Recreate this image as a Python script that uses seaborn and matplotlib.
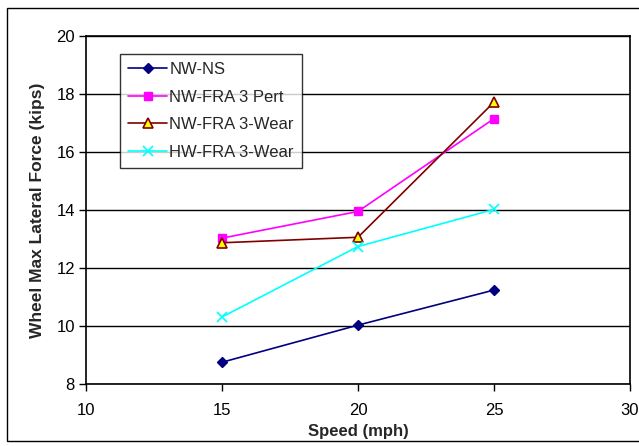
import matplotlib
matplotlib.use("Agg")
import matplotlib.pyplot as plt
import seaborn as sns
import pandas as pd
from matplotlib.patches import Rectangle

speeds = [15, 20, 25]
nw_ns = [8.75, 10.03, 11.24]
nw_fra_pert = [13.03, 13.95, 17.15]
nw_fra_wear = [12.87, 13.06, 17.72]
hw_fra_wear = [10.31, 12.74, 14.02]
series_names = ["NW-NS", "NW-FRA 3 Pert", "NW-FRA 3-Wear", "HW-FRA 3-Wear"]
x_ticks = [10, 15, 20, 25, 30]
y_ticks = [8, 10, 12, 14, 16, 18, 20]

df = pd.DataFrame({
    "Speed": speeds * 4,
    "Force": nw_ns + nw_fra_pert + nw_fra_wear + hw_fra_wear,
    "Series": sum([[n] * len(speeds) for n in series_names], []),
})

sns.set_style("white")
plt.rcParams["font.family"] = ["Liberation Sans", "DejaVu Sans"]

fig = plt.figure(figsize=(6.39, 4.46), dpi=100)
ax = fig.add_axes([86 / 639, 1 - 384 / 446, (630 - 86) / 639, (384 - 36) / 446])

styles = {
    "NW-NS": dict(color="#000080", marker="D", mfc="#000080", mec="#000080", ms=5),
    "NW-FRA 3 Pert": dict(color="#FF00FF", marker="s", mfc="#FF00FF", mec="#FF00FF", ms=6),
    "NW-FRA 3-Wear": dict(color="#800000", marker="^", mfc="#FFFF00", mec="#800000", ms=7, mew=1.2),
    "HW-FRA 3-Wear": dict(color="#00FFFF", marker="x", mfc="#00FFFF", mec="#00FFFF", ms=7, mew=1.2),
}

for name in series_names:
    sub = df[df["Series"] == name]
    st = styles[name]
    sns.lineplot(data=sub, x="Speed", y="Force", ax=ax, color=st["color"], lw=1.2,
                 marker=st["marker"], markersize=st["ms"], markerfacecolor=st["mfc"],
                 markeredgecolor=st["mec"], markeredgewidth=st.get("mew", 1.0), label=name)

ax.set_xlim(10, 30)
ax.set_ylim(8, 20)
ax.set_xticks(x_ticks)
ax.set_yticks(y_ticks)
ax.yaxis.grid(True, color="black", lw=1)
ax.xaxis.grid(False)
for s in ax.spines.values():
    s.set_color("black")
    s.set_linewidth(1.2)
ax.tick_params(axis="both", direction="out", length=5, width=1, colors="black",
               labelsize=12, bottom=True, left=True)
ax.tick_params(axis="x", pad=9)
ax.tick_params(axis="y", pad=3)
ax.set_xlabel("Speed (mph)", fontsize=12, fontweight="bold", labelpad=4)
ax.set_ylabel("Wheel Max Lateral Force (kips)", fontsize=12.5, fontweight="bold", labelpad=8)

leg = ax.legend(loc="upper left", bbox_to_anchor=((120 - 86) / 544, 1 - (54 - 36) / 348),
                frameon=True, fancybox=False, edgecolor="black", fontsize=12,
                handlelength=2.3, handletextpad=0.15, borderpad=0.5, labelspacing=0.75,
                borderaxespad=0)
leg.get_frame().set_linewidth(1.0)

fig.patches.append(Rectangle((7 / 639, 1 - 441 / 446), 1.0, (441 - 8) / 446,
                             transform=fig.transFigure, fill=False, edgecolor="black",
                             lw=1.0))

fig.savefig("out.png", dpi=100)
